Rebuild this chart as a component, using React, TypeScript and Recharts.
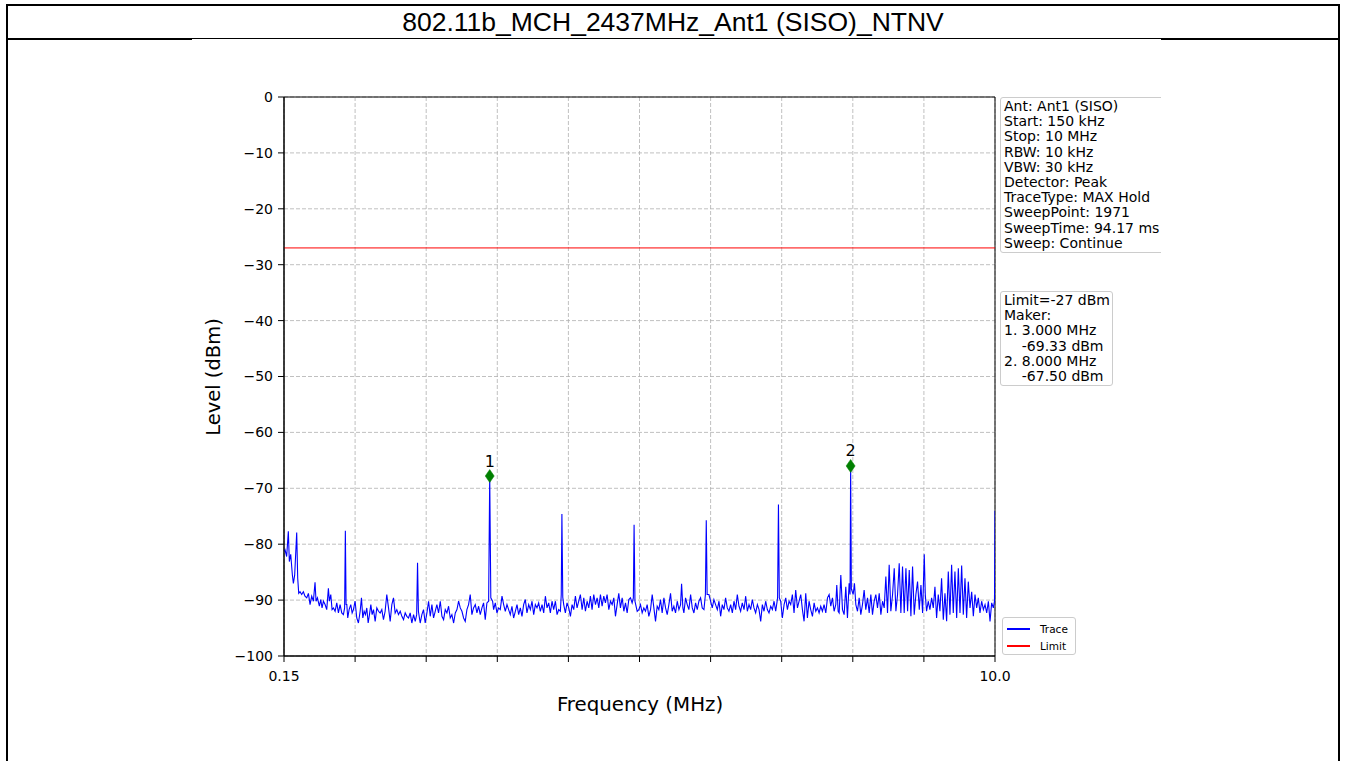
import React from 'react';
import {
  ComposedChart,
  Line,
  Scatter,
  XAxis,
  YAxis,
  CartesianGrid,
  ReferenceLine,
  ReferenceArea,
} from 'recharts';

// ---------------- data ----------------
const titleText = '802.11b_MCH_2437MHz_Ant1 (SISO)_NTNV';
const xLabel = 'Frequency (MHz)';
const yLabel = 'Level (dBm)';

const xTicks = [0.15, 1.135, 2.12, 3.105, 4.09, 5.075, 6.06, 7.045, 8.03, 9.015, 10.0];
const xTickLabels = ['0.15', '', '', '', '', '', '', '', '', '', '10.0'];
const yTicks = [0, -10, -20, -30, -40, -50, -60, -70, -80, -90, -100];

const limitLevel = -27;

const markerPoints = [
  { f: 3.0, v: -67.8, label: '1' },
  { f: 8.0, v: -66.0, label: '2' },
];

const infoLines = [
  'Ant: Ant1 (SISO)',
  'Start: 150 kHz',
  'Stop: 10 MHz',
  'RBW: 10 kHz',
  'VBW: 30 kHz',
  'Detector: Peak',
  'TraceType: MAX Hold',
  'SweepPoint: 1971',
  'SweepTime: 94.17 ms',
  'Sweep: Continue',
];

const markerInfoLines = [
  'Limit=-27 dBm',
  'Maker:',
  '1. 3.000 MHz',
  '    -69.33 dBm',
  '2. 8.000 MHz',
  '    -67.50 dBm',
];

const legendItems = [
  { name: 'Trace', color: '#0000ff' },
  { name: 'Limit', color: '#ff0000' },
];

// trace readings [MHz, dBm]
const band0to1: [number, number][] = [
  [0.150, -81.3], [0.164, -81.0], [0.187, -82.2], [0.210, -77.7], [0.224, -83.1], [0.243, -81.8],
  [0.266, -85.5], [0.280, -87.0], [0.298, -85.5], [0.326, -77.9], [0.340, -86.1], [0.354, -88.8],
  [0.372, -88.5], [0.395, -89.0], [0.418, -88.5], [0.441, -89.3], [0.465, -89.6], [0.488, -88.8],
  [0.511, -90.8], [0.534, -89.3], [0.557, -90.2], [0.580, -86.8], [0.594, -90.2], [0.613, -89.6],
  [0.640, -91.1], [0.659, -89.9], [0.677, -91.4], [0.696, -90.2], [0.719, -90.8], [0.742, -91.7],
  [0.765, -87.9], [0.779, -90.2], [0.798, -89.0], [0.816, -91.7], [0.835, -91.4], [0.858, -92.0],
  [0.881, -90.5], [0.904, -92.3], [0.927, -90.8], [0.950, -92.3], [0.973, -92.6], [0.990, -91.4],
  [1.000, -77.6], [1.010, -90.8],
];

const band1to2: [number, number][] = [
  [1.020, -90.8], [1.033, -93.2], [1.052, -91.7], [1.075, -90.8], [1.094, -92.3], [1.112, -91.7],
  [1.135, -90.2], [1.158, -93.2], [1.181, -94.1], [1.205, -92.0], [1.223, -89.6], [1.242, -93.2],
  [1.260, -92.0], [1.279, -92.6], [1.297, -91.4], [1.316, -94.1], [1.334, -92.6], [1.353, -90.8],
  [1.371, -92.6], [1.390, -91.7], [1.413, -93.8], [1.436, -91.4], [1.459, -92.0], [1.482, -92.3],
  [1.505, -91.7], [1.528, -93.5], [1.551, -92.0], [1.574, -89.0], [1.598, -91.4], [1.621, -93.8],
  [1.644, -90.8], [1.667, -89.6], [1.690, -92.3], [1.713, -91.7], [1.736, -92.6], [1.760, -92.0],
  [1.783, -92.9], [1.806, -93.5], [1.829, -92.3], [1.852, -92.9], [1.875, -93.2], [1.898, -92.3],
  [1.921, -94.1], [1.945, -92.6], [1.968, -93.8], [1.988, -92.6], [2.000, -83.3], [2.012, -92.0],
];

const band2to3: [number, number][] = [
  [2.037, -94.1], [2.060, -92.6], [2.083, -91.7], [2.106, -94.1], [2.130, -92.3], [2.153, -90.2],
  [2.176, -92.9], [2.199, -90.8], [2.222, -93.2], [2.245, -92.0], [2.268, -90.8], [2.291, -92.3],
  [2.315, -90.2], [2.338, -92.9], [2.361, -93.5], [2.384, -91.7], [2.407, -92.3], [2.430, -91.1],
  [2.453, -93.2], [2.476, -92.6], [2.500, -94.1], [2.523, -92.3], [2.546, -91.7], [2.569, -90.2],
  [2.592, -91.4], [2.615, -92.0], [2.638, -93.2], [2.661, -93.8], [2.684, -91.7], [2.707, -90.8],
  [2.730, -89.0], [2.753, -92.6], [2.776, -91.4], [2.800, -90.8], [2.823, -92.3], [2.846, -91.1],
  [2.869, -92.6], [2.892, -91.4], [2.915, -90.5], [2.938, -93.5], [2.961, -90.5], [2.985, -90.2],
  [3.000, -67.8], [3.015, -89.6],
];

const band3to4: [number, number][] = [
  [3.040, -90.2], [3.054, -91.7], [3.077, -90.5], [3.100, -92.3], [3.123, -91.4], [3.146, -91.7],
  [3.170, -89.3], [3.193, -90.8], [3.216, -92.0], [3.239, -90.8], [3.262, -91.7], [3.285, -92.6],
  [3.308, -91.1], [3.331, -93.2], [3.355, -92.0], [3.378, -90.8], [3.401, -92.6], [3.424, -91.4],
  [3.447, -92.9], [3.470, -90.8], [3.493, -89.9], [3.516, -92.3], [3.540, -90.8], [3.563, -91.7],
  [3.586, -90.2], [3.609, -92.6], [3.632, -90.8], [3.655, -91.4], [3.678, -90.5], [3.701, -92.0],
  [3.725, -90.8], [3.748, -92.3], [3.771, -89.3], [3.794, -91.4], [3.817, -90.5], [3.840, -92.3],
  [3.863, -90.2], [3.886, -91.7], [3.910, -90.2], [3.933, -92.6], [3.956, -91.7], [3.979, -92.0],
  [3.991, -89.0], [4.000, -74.6], [4.012, -89.5],
];

const band4to5: [number, number][] = [
  [4.025, -90.8], [4.048, -92.3], [4.071, -90.5], [4.095, -91.4], [4.118, -92.9], [4.141, -90.8],
  [4.164, -91.7], [4.187, -89.3], [4.210, -91.4], [4.233, -90.2], [4.256, -89.0], [4.280, -91.7],
  [4.303, -89.6], [4.326, -92.0], [4.349, -90.2], [4.372, -91.4], [4.395, -89.3], [4.418, -91.7],
  [4.441, -89.0], [4.465, -90.8], [4.488, -89.6], [4.511, -91.4], [4.534, -89.0], [4.557, -91.1],
  [4.580, -89.3], [4.603, -90.5], [4.626, -89.0], [4.650, -91.7], [4.673, -90.2], [4.696, -90.8],
  [4.719, -89.6], [4.742, -92.9], [4.765, -90.8], [4.788, -88.8], [4.811, -91.4], [4.835, -89.6],
  [4.858, -92.0], [4.881, -90.5], [4.904, -92.3], [4.927, -89.9], [4.950, -89.6], [4.973, -90.5],
  [4.990, -89.6], [5.000, -76.5], [5.012, -90.2],
];

const band5to6: [number, number][] = [
  [5.043, -92.0], [5.066, -91.7], [5.089, -90.8], [5.112, -92.3], [5.135, -91.4], [5.158, -92.0],
  [5.181, -90.8], [5.204, -92.9], [5.228, -91.7], [5.251, -89.0], [5.274, -91.4], [5.297, -93.8],
  [5.320, -91.1], [5.343, -91.7], [5.366, -89.9], [5.389, -92.3], [5.413, -89.6], [5.436, -91.4],
  [5.459, -92.6], [5.482, -90.8], [5.505, -88.8], [5.528, -92.0], [5.551, -91.1], [5.574, -92.3],
  [5.598, -90.2], [5.621, -91.7], [5.644, -90.8], [5.658, -87.1], [5.676, -91.4], [5.690, -92.3],
  [5.713, -89.6], [5.736, -90.8], [5.759, -91.7], [5.783, -89.0], [5.806, -91.4], [5.829, -92.3],
  [5.852, -90.5], [5.875, -91.7], [5.898, -90.2], [5.921, -89.6], [5.944, -91.4], [5.968, -91.7],
  [5.988, -89.0], [6.000, -75.7], [6.012, -89.0],
];

const band6to7: [number, number][] = [
  [6.037, -89.0], [6.060, -90.2], [6.083, -91.4], [6.106, -89.9], [6.129, -90.8], [6.153, -91.7],
  [6.176, -90.2], [6.199, -92.9], [6.222, -90.8], [6.245, -91.7], [6.268, -89.6], [6.291, -91.4],
  [6.314, -92.0], [6.338, -90.8], [6.361, -92.3], [6.384, -90.2], [6.407, -91.7], [6.430, -89.0],
  [6.453, -91.1], [6.476, -92.0], [6.499, -90.5], [6.523, -91.7], [6.546, -89.3], [6.569, -92.0],
  [6.592, -90.8], [6.615, -91.7], [6.638, -89.9], [6.661, -91.4], [6.684, -92.3], [6.708, -90.8],
  [6.731, -91.7], [6.754, -93.8], [6.777, -90.8], [6.800, -92.0], [6.823, -90.2], [6.846, -91.7],
  [6.869, -92.3], [6.893, -91.1], [6.916, -91.7], [6.939, -90.2], [6.962, -92.0], [6.988, -89.6],
  [7.000, -72.9], [7.012, -89.6],
];

const band7to8: [number, number][] = [
  [7.031, -90.2], [7.054, -93.2], [7.078, -90.8], [7.101, -89.6], [7.124, -91.7], [7.147, -90.2],
  [7.170, -90.8], [7.193, -89.0], [7.216, -92.3], [7.239, -88.2], [7.263, -91.4], [7.286, -90.2],
  [7.309, -89.0], [7.332, -91.7], [7.355, -93.8], [7.378, -88.8], [7.401, -93.2], [7.424, -90.2],
  [7.447, -91.7], [7.471, -92.9], [7.494, -90.5], [7.517, -92.0], [7.540, -91.4], [7.563, -92.3],
  [7.586, -91.1], [7.609, -92.0], [7.632, -90.8], [7.656, -92.3], [7.679, -89.6], [7.702, -89.0],
  [7.725, -91.1], [7.748, -89.6], [7.771, -92.0], [7.794, -90.8], [7.808, -87.3], [7.827, -92.0],
  [7.841, -92.3], [7.864, -85.5], [7.887, -91.7], [7.910, -92.6], [7.933, -87.6], [7.956, -93.2],
  [7.979, -87.0], [7.992, -89.0], [8.000, -66.0], [8.010, -88.0],
];

const band8to9: [number, number][] = [
  [8.035, -89.0], [8.053, -87.0], [8.072, -90.8], [8.095, -92.0], [8.118, -89.6], [8.141, -92.6],
  [8.164, -90.8], [8.187, -88.2], [8.210, -91.7], [8.234, -89.6], [8.257, -92.3], [8.280, -89.0],
  [8.303, -92.6], [8.326, -90.2], [8.349, -89.0], [8.372, -91.4], [8.396, -88.8], [8.419, -92.6],
  [8.442, -90.2], [8.465, -91.4], [8.488, -85.8], [8.511, -92.3], [8.534, -83.7], [8.557, -92.0],
  [8.581, -89.0], [8.604, -84.3], [8.627, -92.0], [8.650, -89.0], [8.673, -83.4], [8.696, -92.3],
  [8.719, -84.0], [8.742, -92.3], [8.766, -84.3], [8.789, -92.0], [8.812, -84.6], [8.835, -92.9],
  [8.858, -84.0], [8.881, -92.6], [8.904, -89.0], [8.927, -86.7], [8.951, -91.7], [8.974, -87.3],
  [8.997, -92.3],
];

const band9to10: [number, number][] = [
  [9.020, -81.8], [9.034, -89.0], [9.052, -92.0], [9.075, -90.2], [9.098, -91.7], [9.122, -89.6],
  [9.145, -91.4], [9.168, -87.6], [9.191, -93.2], [9.214, -89.0], [9.237, -92.0], [9.260, -86.1],
  [9.284, -93.5], [9.307, -88.8], [9.330, -93.8], [9.353, -84.9], [9.376, -92.6], [9.399, -83.7],
  [9.422, -92.3], [9.445, -84.9], [9.469, -93.2], [9.492, -84.3], [9.515, -92.3], [9.538, -83.8],
  [9.561, -92.6], [9.584, -86.1], [9.607, -93.2], [9.630, -86.7], [9.654, -91.4], [9.677, -88.5],
  [9.700, -92.9], [9.723, -89.0], [9.746, -91.4], [9.769, -89.6], [9.792, -92.3], [9.815, -90.2],
  [9.839, -91.7], [9.862, -90.8], [9.885, -92.3], [9.908, -90.2], [9.931, -93.8], [9.954, -90.5],
  [9.977, -91.4], [9.993, -90.2], [10.000, -74.0],
];

const traceData = [
  ...band0to1, ...band1to2, ...band2to3, ...band3to4, ...band4to5,
  ...band5to6, ...band6to7, ...band7to8, ...band8to9, ...band9to10,
].map(([f, v]) => ({ f, v }));

// ---------------- styles ----------------
const MPL_FONT = '"DejaVu Sans", Verdana, sans-serif';

const fmtY = (v: number) => (v < 0 ? '\u2212' + Math.abs(v) : String(v));
const fmtX = (v: number) => {
  const i = xTicks.indexOf(v);
  return i >= 0 ? xTickLabels[i] : '';
};

const MarkerShape = (props: any) => {
  const { cx, cy, payload } = props;
  if (cx == null || cy == null) return null;
  const h = 6.5;
  const w = 4.5;
  return (
    <g>
      <polygon
        points={`${cx},${cy - h} ${cx + w},${cy} ${cx},${cy + h} ${cx - w},${cy}`}
        fill="#008000"
        stroke="#008000"
        strokeWidth={0.5}
      />
      <text
        x={cx}
        y={cy - 15}
        textAnchor="middle"
        dominantBaseline="central"
        fontSize={16}
        fontFamily={MPL_FONT}
        fill="#000"
      >
        {payload.label}
      </text>
    </g>
  );
};

const boxStyle: React.CSSProperties = {
  position: 'absolute',
  border: '1px solid #cccccc',
  borderRadius: 3,
  background: 'rgba(255,255,255,0.8)',
  boxSizing: 'border-box',
  fontFamily: MPL_FONT,
  fontSize: 14,
  lineHeight: '15.2px',
  color: '#000',
  whiteSpace: 'pre',
  padding: '1px 0 0 3px',
};

export default function App() {
  return (
    <div
      style={{
        position: 'absolute',
        left: 0,
        top: 0,
        width: 1346,
        height: 761,
        background: '#fff',
        overflow: 'hidden',
      }}
    >
      {/* title row */}
      <div
        style={{
          position: 'absolute',
          left: 6,
          top: 4,
          width: 1334,
          height: 36,
          border: '2px solid #000',
          boxSizing: 'border-box',
          display: 'flex',
          alignItems: 'center',
          justifyContent: 'center',
          fontFamily: '"Liberation Sans", Arial, sans-serif',
          fontSize: 26.5,
          color: '#000',
          whiteSpace: 'nowrap',
        }}
      >
        {titleText}
      </div>
      {/* side borders */}
      <div style={{ position: 'absolute', left: 6, top: 40, width: 2, height: 721, background: '#000' }} />
      <div style={{ position: 'absolute', left: 1338, top: 40, width: 2, height: 721, background: '#000' }} />

      {/* figure */}
      <div
        style={{
          position: 'absolute',
          left: 192,
          top: 39,
          width: 969,
          height: 722,
          background: '#fff',
          overflow: 'hidden',
        }}
      >
        <ComposedChart
          width={969}
          height={722}
          data={traceData}
          margin={{ top: 58, right: 166, bottom: 75, left: 32 }}
        >
          <CartesianGrid stroke="#b0b0b0" strokeDasharray="4 2" strokeWidth={0.8} />
          <XAxis
            dataKey="f"
            type="number"
            domain={[0.15, 10]}
            ticks={xTicks}
            tickFormatter={fmtX}
            interval={0}
            allowDataOverflow
            height={30}
            stroke="#000"
            tickSize={6}
            tickMargin={9}
            tick={{ fill: '#000', fontSize: 14, fontFamily: MPL_FONT }}
          />
          <YAxis
            type="number"
            domain={[-100, 0]}
            ticks={yTicks}
            tickFormatter={fmtY}
            interval={0}
            allowDataOverflow
            width={60}
            stroke="#000"
            tickSize={6}
            tickMargin={5}
            tick={{ fill: '#000', fontSize: 14, fontFamily: MPL_FONT }}
          />
          <ReferenceLine y={limitLevel} stroke="#ff0000" strokeWidth={1} />
          <Line
            dataKey="v"
            stroke="#0000ff"
            strokeWidth={1.1}
            dot={false}
            activeDot={false}
            isAnimationActive={false}
            type="linear"
          />
          <Scatter
            data={markerPoints}
            dataKey="v"
            shape={MarkerShape}
            isAnimationActive={false}
          />
          <ReferenceArea
            x1={0.15}
            x2={10}
            y1={-100}
            y2={0}
            fill="none"
            fillOpacity={0}
            stroke="#000"
            strokeWidth={1}
            ifOverflow="visible"
          />
        </ComposedChart>

        {/* axis titles */}
        <div
          style={{
            position: 'absolute',
            left: 21,
            top: 338,
            transform: 'translate(-50%, -50%) rotate(-90deg)',
            fontFamily: MPL_FONT,
            fontSize: 19.5,
            color: '#000',
            whiteSpace: 'nowrap',
          }}
        >
          {yLabel}
        </div>
        <div
          style={{
            position: 'absolute',
            left: 448,
            top: 665,
            transform: 'translate(-50%, -50%)',
            fontFamily: MPL_FONT,
            fontSize: 19.8,
            color: '#000',
            whiteSpace: 'nowrap',
          }}
        >
          {xLabel}
        </div>

        {/* info box */}
        <div style={{ ...boxStyle, left: 808, top: 58, width: 180, height: 156 }}>
          {infoLines.join('\n')}
        </div>

        {/* limit / marker box */}
        <div style={{ ...boxStyle, left: 808, top: 252, width: 113, height: 95 }}>
          {markerInfoLines.join('\n')}
        </div>

        {/* legend */}
        <div
          style={{
            position: 'absolute',
            left: 810,
            top: 578,
            width: 74,
            height: 38,
            border: '1px solid #cccccc',
            borderRadius: 3,
            background: 'rgba(255,255,255,0.8)',
            boxSizing: 'border-box',
          }}
        >
          {legendItems.map((it, i) => (
            <div
              key={it.name}
              style={{
                position: 'absolute',
                left: 4,
                top: 4 + i * 17,
                height: 14,
                display: 'flex',
                alignItems: 'center',
                fontFamily: MPL_FONT,
                fontSize: 10.5,
                color: '#000',
                whiteSpace: 'nowrap',
              }}
            >
              <span
                style={{
                  display: 'inline-block',
                  width: 23,
                  height: 1.5,
                  background: it.color,
                  marginRight: 10,
                }}
              />
              {it.name}
            </div>
          ))}
        </div>
      </div>
    </div>
  );
}
